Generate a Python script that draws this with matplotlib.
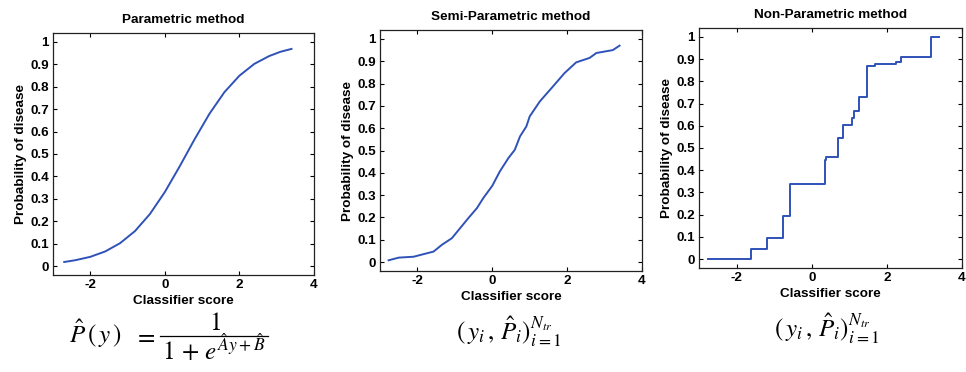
import matplotlib
matplotlib.use("Agg")
import matplotlib.pyplot as plt
from matplotlib.lines import Line2D
import numpy as np

plt.rcParams['font.family'] = ['Liberation Sans', 'DejaVu Sans']
plt.rcParams['mathtext.fontset'] = 'stix'

# parametric (fitted logistic) curve
param_x = [-2.7, -2.4, -2.0, -1.6, -1.2, -0.8, -0.4, 0.0, 0.4, 0.8, 1.2, 1.6, 2.0, 2.4, 2.8, 3.1, 3.4]
param_y = [0.018, 0.026, 0.041, 0.065, 0.102, 0.156, 0.232, 0.330, 0.445, 0.566, 0.680, 0.776, 0.849, 0.902, 0.937, 0.956, 0.969]

# semi-parametric curve
semi_x = [-2.77, -2.50, -2.10, -1.92, -1.57, -1.35, -1.08, -0.86, -0.64, -0.41, -0.24, 0.0, 0.20, 0.43,
          0.60, 0.74, 0.91, 1.0, 1.27, 1.62, 1.93, 2.24, 2.60, 2.78, 3.22, 3.40]
semi_y = [0.008, 0.02, 0.024, 0.032, 0.047, 0.077, 0.107, 0.152, 0.197, 0.242, 0.287, 0.342, 0.406, 0.466,
          0.503, 0.563, 0.608, 0.653, 0.72, 0.787, 0.847, 0.895, 0.915, 0.937, 0.95, 0.97]

# non-parametric step function (level starts at each x)
step_x = [-2.77, -1.62, -1.19, -0.77, -0.57, 0.35, 0.39, 0.70, 0.83, 1.06, 1.13, 1.27, 1.48, 1.68, 2.23, 2.38, 3.18, 3.39]
step_y = [0.0, 0.044, 0.096, 0.194, 0.338, 0.445, 0.461, 0.545, 0.605, 0.634, 0.666, 0.729, 0.871, 0.877, 0.889, 0.910, 1.0, 1.0]

titles = ["Parametric method", "Semi-Parametric method", "Non-Parametric method"]
pairs_formula = r"$(\,y_i\,,\,\hat{P}_i)_{i=1}^{N_{tr}}$"

xticks = [-2, 0, 2, 4]
yticks = [0, 0.1, 0.2, 0.3, 0.4, 0.5, 0.6, 0.7, 0.8, 0.9, 1]
ytick_labels = ["0", "0.1", "0.2", "0.3", "0.4", "0.5", "0.6", "0.7", "0.8", "0.9", "1"]

line_color = '#2f52b8'
fs = 9.7

fig = plt.figure(figsize=(9.66, 3.72), dpi=100)
positions = [[0.0549, 0.2608, 0.270, 0.6505],
             [0.3934, 0.2715, 0.2712, 0.6478],
             [0.7236, 0.2796, 0.2723, 0.6452]]

for i, pos in enumerate(positions):
    ax = fig.add_axes(pos)
    if i == 0:
        ax.plot(param_x, param_y, color=line_color, lw=1.4)
    elif i == 1:
        ax.plot(semi_x, semi_y, color=line_color, lw=1.4)
    else:
        ax.step(step_x, step_y, where='post', color=line_color, lw=1.4)
    ax.set_xlim(-3, 4)
    ax.set_ylim(-0.04, 1.04)
    ax.set_xticks(xticks)
    ax.set_xticklabels([str(t) for t in xticks], fontsize=fs, fontweight='bold')
    ax.set_yticks(yticks)
    ax.set_yticklabels(ytick_labels, fontsize=fs, fontweight='bold')
    ax.tick_params(direction='in', top=True, right=True, length=3, width=0.8, pad=3)
    for s in ax.spines.values():
        s.set_linewidth(0.9)
        s.set_color('#222222')
    ax.set_title(titles[i], fontsize=fs, fontweight='bold', pad=7)
    ax.set_xlabel("Classifier score", fontsize=fs, fontweight='bold', labelpad=2.5)
    ax.set_ylabel("Probability of disease", fontsize=fs, fontweight='bold', labelpad=2)

# logistic formula under the first panel, set piece by piece
fsz = 18
fig.text(0.071, 0.078, r"$\hat{P}\,(\,y\,)$", fontsize=fsz, ha='left', va='baseline')
fig.text(0.150, 0.078, r"$=$", fontsize=fsz, ha='center', va='baseline')
fig.text(0.2226, 0.113, r"$1$", fontsize=fsz, ha='center', va='baseline')
fig.add_artist(Line2D([0.1656, 0.2774], [0.0968, 0.0968], transform=fig.transFigure,
                      color='black', lw=0.9))
fig.text(0.2215, 0.032, r"$1\,+\,e^{\hat{A}y+\hat{B}}$", fontsize=fsz, ha='center', va='baseline')

# training pairs under the other two panels
fig.text(0.527, 0.108, pairs_formula, fontsize=18, ha='center', va='center')
fig.text(0.856, 0.115, pairs_formula, fontsize=18, ha='center', va='center')

fig.savefig("out.png", dpi=100)
